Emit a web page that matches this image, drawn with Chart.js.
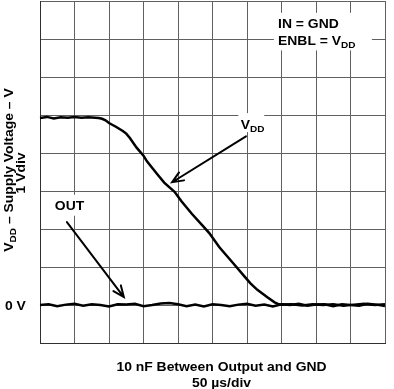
<!DOCTYPE html>
<html>
<head>
<meta charset="utf-8">
<script src="https://cdn.jsdelivr.net/npm/chart.js@4.4.0/dist/chart.umd.min.js"></script>
<style>
  body { margin: 0; background: #fff; }
  #scope { display: block; }
</style>
</head>
<body>
<canvas id="scope" width="394" height="389"></canvas>
<script>
// time in divisions (50 us/div), voltage in volts (1 V/div)
var vddTime = [0, 0.2, 0.4, 0.6, 0.8, 1.0, 1.2, 1.4, 1.6, 1.7, 1.8, 1.9, 2.0, 2.2, 2.4, 2.5, 2.6, 2.8, 3.0, 3.1,
    3.4, 3.6, 3.9, 4.1, 4.4, 4.7, 4.9, 5.2, 5.6, 5.9, 6.1, 6.3, 6.6, 6.8, 6.9, 7.0, 7.3, 7.6, 7.9, 8.2,
    8.5, 8.8, 9.1, 9.4, 9.7, 10.0, 10.25];
var vddVolt = [4.92, 4.95, 4.91, 4.94, 4.93, 4.95, 4.93, 4.94, 4.93, 4.92, 4.90, 4.86, 4.79, 4.69, 4.58, 4.51, 4.40, 4.14, 3.93, 3.78,
    3.44, 3.22, 2.98, 2.73, 2.40, 2.10, 1.90, 1.52, 1.10, 0.78, 0.57, 0.40, 0.20, 0.07, 0.03, 0.01, 0.02, -0.01, 0.02, 0.00,
    0.02, -0.02, 0.01, 0.03, 0.00, 0.02, 0.01];

var outTime = [0, 0.25, 0.5, 0.75, 1.0, 1.25, 1.5, 1.75, 2.0, 2.25, 2.5, 2.75, 3.0, 3.25, 3.5, 3.75, 4.0, 4.25, 4.5, 4.75,
    5.0, 5.25, 5.5, 5.75, 6.0, 6.25, 6.5, 6.75, 7.0, 7.25, 7.5, 7.75, 8.0, 8.25, 8.5, 8.75, 9.0, 9.25, 9.5, 9.75,
    10.0, 10.25];
var outVolt = [0.00, 0.02, -0.03, 0.01, 0.03, -0.02, 0.02, 0.00, -0.04, 0.02, 0.01, 0.03, -0.03, 0.00, 0.04, 0.05, 0.02, -0.03, 0.01, -0.04,
    0.02, 0.00, -0.03, 0.01, 0.03, -0.02, 0.01, -0.04, 0.02, 0.00, 0.03, -0.02, 0.01, 0.02, -0.03, 0.02, 0.00, -0.02, 0.03, 0.01,
    -0.03, 0.02];

var xDivs = [0, 10];
var yDivs = [-1, 8];

// annotation arrows: [fromX, fromY, toX, toY] in data units
var vddArrow = [5.97, 4.44, 3.83, 3.23];
var outArrow = [0.78, 2.18, 2.43, 0.21];

var FONT = '"Liberation Sans", Arial, sans-serif';
var STRETCH = 1.07;

function toPoints(xs, ys) {
    var pts = [];
    for (var i = 0; i < xs.length; i++) {
        pts.push({ x: xs[i], y: ys[i] });
    }
    return pts;
}

// parts: [{t: 'ENBL = V'}, {t: 'DD', sub: true}]
function richWidth(ctx, parts, size) {
    var w = 0;
    parts.forEach(function (p) {
        ctx.font = 'bold ' + (p.sub ? size * 0.72 : size) + 'px ' + FONT;
        w += ctx.measureText(p.t).width;
    });
    return w * STRETCH;
}

function drawRich(ctx, parts, x, y, size, align) {
    var w = richWidth(ctx, parts, size);
    var start = x;
    if (align === 'center') start = x - w / 2;
    ctx.save();
    ctx.translate(start, y);
    ctx.scale(STRETCH, 1);
    ctx.fillStyle = '#000';
    ctx.textBaseline = 'alphabetic';
    ctx.textAlign = 'left';
    var cx = 0;
    parts.forEach(function (p) {
        var s = p.sub ? size * 0.72 : size;
        ctx.font = 'bold ' + s + 'px ' + FONT;
        ctx.fillText(p.t, cx, p.sub ? 3 : 0);
        cx += ctx.measureText(p.t).width;
    });
    ctx.restore();
    return w;
}

function drawArrow(ctx, a, xs, ys) {
    var x1 = xs.getPixelForValue(a[0]), y1 = ys.getPixelForValue(a[1]);
    var x2 = xs.getPixelForValue(a[2]), y2 = ys.getPixelForValue(a[3]);
    var ang = Math.atan2(y2 - y1, x2 - x1);
    var len = 12, spread = 0.4;
    ctx.save();
    ctx.strokeStyle = '#000';
    ctx.lineWidth = 2;
    ctx.lineCap = 'round';
    ctx.beginPath();
    ctx.moveTo(x1, y1);
    ctx.lineTo(x2, y2);
    ctx.moveTo(x2 - len * Math.cos(ang - spread), y2 - len * Math.sin(ang - spread));
    ctx.lineTo(x2, y2);
    ctx.lineTo(x2 - len * Math.cos(ang + spread), y2 - len * Math.sin(ang + spread));
    ctx.stroke();
    ctx.restore();
}

function whiteBox(ctx, xs, ys, x0, y0, x1, y1) {
    var px0 = xs.getPixelForValue(x0), px1 = xs.getPixelForValue(x1);
    var py0 = ys.getPixelForValue(y0), py1 = ys.getPixelForValue(y1);
    ctx.fillStyle = '#fff';
    ctx.fillRect(Math.min(px0, px1), Math.min(py0, py1), Math.abs(px1 - px0), Math.abs(py1 - py0));
}

const scopeLabels = {
    id: 'scopeLabels',
    beforeDatasetsDraw(chart) {
        const { ctx, scales: { x, y } } = chart;
        ctx.save();
        whiteBox(ctx, x, y, 6.78, 7.69, 9.62, 6.70);
        whiteBox(ctx, x, y, 5.75, 5.05, 6.50, 4.55);
        whiteBox(ctx, x, y, 0.35, 2.90, 1.25, 2.35);
        ctx.restore();
    },
    afterDatasetsDraw(chart) {
        const { ctx, scales: { x, y } } = chart;
        drawArrow(ctx, vddArrow, x, y);
        drawArrow(ctx, outArrow, x, y);

        drawRich(ctx, [{ t: 'IN = GND' }], x.getPixelForValue(6.9), y.getPixelForValue(7.28), 13, 'left');
        drawRich(ctx, [{ t: 'ENBL = V' }, { t: 'DD', sub: true }], x.getPixelForValue(6.9), y.getPixelForValue(6.85), 13, 'left');
        drawRich(ctx, [{ t: 'V' }, { t: 'DD', sub: true }], x.getPixelForValue(5.82), y.getPixelForValue(4.64), 13, 'left');
        drawRich(ctx, [{ t: 'OUT' }], x.getPixelForValue(0.43), y.getPixelForValue(2.50), 13, 'left');
    },
    afterDraw(chart) {
        const { ctx, chartArea, scales: { y } } = chart;
        var zero = y.getPixelForValue(0);
        drawRich(ctx, [{ t: '0 V' }], 5, zero + 5, 13, 'left');

        var midX = (chartArea.left + chartArea.right) / 2 + 9;
        drawRich(ctx, [{ t: '10 nF Between Output and GND' }], midX, chartArea.bottom + 28, 13, 'center');
        drawRich(ctx, [{ t: '50 \u00b5s/div' }], midX, chartArea.bottom + 44, 13, 'center');

        ctx.save();
        ctx.translate(13, 170);
        ctx.rotate(-Math.PI / 2);
        drawRich(ctx, [{ t: 'V' }, { t: 'DD', sub: true }, { t: ' \u2013 Supply Voltage \u2013 V' }], 0, 0, 13, 'center');
        ctx.restore();
        ctx.save();
        ctx.translate(25, 173);
        ctx.rotate(-Math.PI / 2);
        drawRich(ctx, [{ t: '1 Vdiv' }], 0, 0, 13, 'center');
        ctx.restore();
    }
};

var ctx = document.getElementById('scope');
var scopeChart = new Chart(ctx, {
    type: 'line',
    data: {
        datasets: [{
            label: 'OUT',
            data: toPoints(outTime, outVolt),
            borderColor: '#000',
            borderWidth: 2.5,
            pointRadius: 0,
            tension: 0,
            clip: false
        },
        {
            label: 'VDD',
            data: toPoints(vddTime, vddVolt),
            borderColor: '#000',
            borderWidth: 2.5,
            pointRadius: 0,
            tension: 0,
            clip: false
        }]
    },
    options: {
        responsive: false,
        animation: false,
        devicePixelRatio: 1,
        layout: {
            padding: { left: 40, right: 9, top: 1, bottom: 46 }
        },
        plugins: {
            legend: { display: false },
            tooltip: { enabled: false }
        },
        scales: {
            x: {
                type: 'linear',
                min: xDivs[0],
                max: xDivs[1],
                ticks: { display: false, stepSize: 1 },
                grid: { color: '#606060', lineWidth: 1, drawTicks: false },
                border: { color: '#303030', width: 1 }
            },
            y: {
                type: 'linear',
                min: yDivs[0],
                max: yDivs[1],
                ticks: { display: false, stepSize: 1 },
                grid: { color: '#606060', lineWidth: 1, drawTicks: false },
                border: { color: '#303030', width: 1 }
            }
        }
    },
    plugins: [scopeLabels]
});
</script>
</body>
</html>
